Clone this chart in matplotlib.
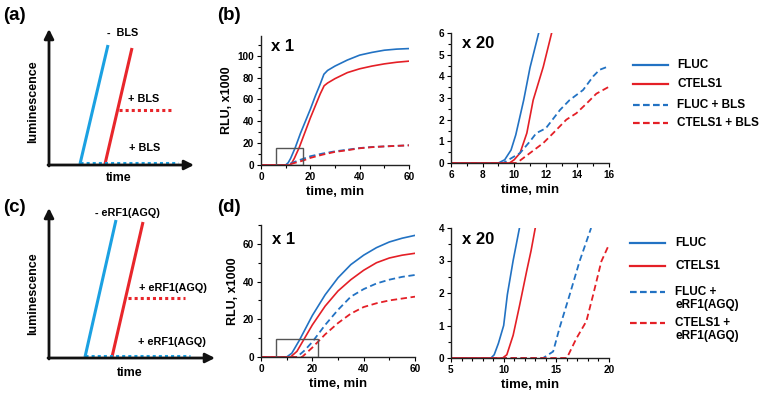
import matplotlib
matplotlib.use("Agg")
import matplotlib.pyplot as plt
from matplotlib.patches import Rectangle
from matplotlib.ticker import MultipleLocator

plt.rcParams['font.family'] = ['Liberation Sans', 'DejaVu Sans']
plt.rcParams['font.weight'] = 'bold'

BLUE = '#2272c3'
RED = '#e41f26'
SK_BLUE = '#1ba1e2'
SK_RED = '#e8262b'

# ---- (b) x1 : time (min) / RLU x1000
b1_fluc_t = [0, 10, 11, 12, 13.9, 16, 18, 20, 22, 24, 25.5, 27, 30, 35, 40, 45, 50, 55, 60]
b1_fluc_y = [0, 0, 2, 6, 16, 29, 40, 51, 63, 74, 83, 86.5, 90.5, 96, 100.5, 103, 105, 106, 106.5]
b1_ctels_t = [0, 11.6, 12.5, 13.5, 15.5, 18, 20, 22, 24, 25.6, 27, 30, 35, 40, 45, 50, 55, 60]
b1_ctels_y = [0, 0, 2, 6, 16, 31, 43, 54, 65, 72.5, 75, 79, 84.5, 88, 90.5, 92.5, 94, 95]
b1_flucbls_t = [0, 10, 12, 15, 20, 25, 30, 35, 40, 45, 50, 55, 60]
b1_flucbls_y = [0, 0, 1.5, 4, 8, 10.5, 12.5, 14, 15.5, 16.5, 17, 17.5, 18]
b1_ctelsbls_t = [0, 11, 13, 17, 20, 25, 30, 35, 40, 45, 50, 55, 60]
b1_ctelsbls_y = [0, 0, 1.5, 4, 6.5, 9.5, 12, 13.5, 15.3, 16.3, 17, 17.5, 18]

# ---- (b) x20
b2_fluc_t = [6, 9.0, 9.4, 9.8, 10.1, 10.6, 11.0, 11.55]
b2_fluc_y = [0, 0, 0.15, 0.6, 1.3, 2.9, 4.4, 6]
b2_ctels_t = [6, 9.7, 10.0, 10.37, 10.8, 11.2, 11.84, 12.37]
b2_ctels_y = [0, 0, 0.15, 0.46, 1.38, 2.9, 4.44, 6]
b2_flucbls_t = [6, 9.3, 10.37, 11.0, 11.4, 12.0, 12.9, 13.5, 13.94, 14.36, 15.0, 15.4, 16.0]
b2_flucbls_y = [0, 0, 0.46, 1.0, 1.38, 1.6, 2.45, 2.9, 3.14, 3.37, 4.0, 4.3, 4.47]
b2_ctelsbls_t = [6, 10.16, 11.0, 11.84, 12.47, 13.3, 13.94, 14.6, 15.2, 16.0]
b2_ctelsbls_y = [0, 0, 0.46, 0.92, 1.38, 2.0, 2.3, 2.76, 3.2, 3.52]

# ---- (d) x1
d1_fluc_t = [0, 10, 12, 15, 20, 25, 30, 35, 40, 45, 50, 55, 60]
d1_fluc_y = [0, 0, 2, 9, 22, 33, 42, 49, 54, 58, 61, 63, 64.5]
d1_ctels_t = [0, 11.5, 14, 17, 20, 25, 30, 35, 40, 45, 50, 55, 60]
d1_ctels_y = [0, 0, 3, 10, 17, 27, 35, 41, 46, 50, 52.5, 54, 55]
d1_flucerf_t = [0, 14, 17, 20, 25, 30, 35, 40, 45, 50, 55, 60]
d1_flucerf_y = [0, 0, 3.5, 8, 17, 25, 32, 36, 39, 41, 42.5, 43.5]
d1_ctelserf_t = [0, 16, 18, 20, 25, 30, 35, 40, 45, 50, 55, 60]
d1_ctelserf_y = [0, 0, 2.5, 5, 12, 18, 23, 26.5, 28.5, 30, 31, 32]

# ---- (d) x20
d2_fluc_t = [5, 8.8, 9.1, 9.5, 10.0, 10.35, 10.9, 11.5]
d2_fluc_y = [0, 0, 0.1, 0.45, 1.0, 1.95, 3.0, 4.0]
d2_ctels_t = [5, 9.9, 10.3, 10.9, 11.5, 12.2, 12.6, 13.0]
d2_ctels_y = [0, 0, 0.1, 0.7, 1.6, 2.7, 3.3, 4.0]
d2_flucerf_t = [5, 13.75, 14.7, 15.3, 16.27, 17.2, 18.3]
d2_flucerf_y = [0, 0, 0.2, 0.92, 1.95, 2.97, 4.0]
d2_ctelserf_t = [5, 16.0, 16.9, 17.85, 18.5, 19.27, 20.0]
d2_ctelserf_y = [0, 0, 0.6, 1.13, 1.95, 2.97, 3.49]

legend_b = ['FLUC', 'CTELS1', 'FLUC + BLS', 'CTELS1 + BLS']
legend_d = ['FLUC', 'CTELS1', 'FLUC +\neRF1(AGQ)', 'CTELS1 +\neRF1(AGQ)']

fig = plt.figure(figsize=(7.64, 3.94), dpi=100)
W, H = 764, 394


def make_ax(x0, x1, y0, y1):
    # pixel box -> figure fractions
    return fig.add_axes([x0 / W, 1 - y1 / H, (x1 - x0) / W, (y1 - y0) / H])


def style(ax, xlim, ylim, xmaj, xmin, ymaj, ymin):
    ax.set_xlim(*xlim)
    ax.set_ylim(*ylim)
    ax.xaxis.set_major_locator(MultipleLocator(xmaj))
    ax.xaxis.set_minor_locator(MultipleLocator(xmin))
    ax.yaxis.set_major_locator(MultipleLocator(ymaj))
    ax.yaxis.set_minor_locator(MultipleLocator(ymin))
    for s in ['top', 'right']:
        ax.spines[s].set_visible(False)
    for s in ['left', 'bottom']:
        ax.spines[s].set_linewidth(1.0)
        ax.spines[s].set_color('#222222')
    ax.tick_params(which='major', length=3, width=0.8, labelsize=7.2, pad=2)
    ax.tick_params(which='minor', length=2, width=0.8)
    ax.set_xlabel('time, min', fontsize=9.5, fontweight='bold', labelpad=3)
    ax.patch.set_alpha(0)


def four(ax, s, dashed=(3.5, 2)):
    ax.plot(s[0], s[1], color=BLUE, lw=1.2)
    ax.plot(s[2], s[3], color=RED, lw=1.2)
    ax.plot(s[4], s[5], color=BLUE, lw=1.3, dashes=dashed)
    ax.plot(s[6], s[7], color=RED, lw=1.3, dashes=dashed)


# (b) left
ax = make_ax(261, 409, 36, 165)
four(ax, [b1_fluc_t, b1_fluc_y, b1_ctels_t, b1_ctels_y,
          b1_flucbls_t, b1_flucbls_y, b1_ctelsbls_t, b1_ctelsbls_y])
ax.add_patch(Rectangle((6, 0), 11, 16, fill=False, ec='#555555', lw=1, zorder=5))
style(ax, (0, 60), (0, 118), 20, 10, 20, 10)
ax.set_ylabel('RLU, x1000', fontsize=9, fontweight='bold', labelpad=3)
ax.text(0.07, 0.92, 'x 1', transform=ax.transAxes, fontsize=12, fontweight='bold', va='center')

# (b) right
ax = make_ax(451, 609, 33, 163)
four(ax, [b2_fluc_t, b2_fluc_y, b2_ctels_t, b2_ctels_y,
          b2_flucbls_t, b2_flucbls_y, b2_ctelsbls_t, b2_ctelsbls_y])
style(ax, (6, 16), (0, 6), 2, 1, 1, 0.5)
ax.text(0.07, 0.92, 'x 20', transform=ax.transAxes, fontsize=12, fontweight='bold', va='center')

# (d) left
ax = make_ax(261, 415, 225, 357)
four(ax, [d1_fluc_t, d1_fluc_y, d1_ctels_t, d1_ctels_y,
          d1_flucerf_t, d1_flucerf_y, d1_ctelserf_t, d1_ctelserf_y])
ax.add_patch(Rectangle((6, 0), 16.3, 9.6, fill=False, ec='#555555', lw=1, zorder=5))
style(ax, (0, 60), (0, 70), 20, 10, 20, 10)
ax.set_ylabel('RLU, x1000', fontsize=9, fontweight='bold', labelpad=3)
ax.text(0.07, 0.89, 'x 1', transform=ax.transAxes, fontsize=12, fontweight='bold', va='center')

# (d) right
ax = make_ax(451, 609, 228, 358)
four(ax, [d2_fluc_t, d2_fluc_y, d2_ctels_t, d2_ctels_y,
          d2_flucerf_t, d2_flucerf_y, d2_ctelserf_t, d2_ctelserf_y])
style(ax, (5, 20), (0, 4), 5, 1, 1, 0.5)
ax.text(0.07, 0.91, 'x 20', transform=ax.transAxes, fontsize=12, fontweight='bold', va='center')

# overlay in pixel coordinates: schematics, legends, panel letters
ov = fig.add_axes([0, 0, 1, 1])
ov.set_xlim(0, W)
ov.set_ylim(H, 0)
ov.axis('off')
ov.patch.set_alpha(0)

for lab, x, y in [('(a)', 3, 15), ('(b)', 217, 15), ('(c)', 3, 207), ('(d)', 217, 207)]:
    ov.text(x, y, lab, fontsize=13.5, fontweight='bold', va='center', ha='left')


def schematic(y_top, y_base, x_end, blue_line, red_line, red_dot, blue_dot, texts, time_y, lum_y):
    arrow = dict(arrowstyle='-|>', lw=2, color='#111111', mutation_scale=14, shrinkA=0, shrinkB=0)
    ov.annotate('', xy=(49, y_top), xytext=(49, y_base + 1), arrowprops=arrow)
    ov.annotate('', xy=(x_end, y_base), xytext=(48, y_base), arrowprops=arrow)
    ov.plot(blue_line[0], blue_line[1], color=SK_BLUE, lw=2.2, solid_capstyle='butt')
    ov.plot(red_line[0], red_line[1], color=SK_RED, lw=2.2, solid_capstyle='butt')
    ov.plot(red_dot[0], red_dot[1], color=SK_RED, lw=2.2, dashes=(1, 1))
    ov.plot(blue_dot[0], blue_dot[1], color=SK_BLUE, lw=2.2, dashes=(1, 1))
    for t, x, y in texts:
        ov.text(x, y, t, fontsize=7.8, fontweight='bold', va='center', ha='left')
    ov.text(40 + (x_end - 40) / 2 + 2, time_y, 'time', fontsize=9, fontweight='bold', va='center', ha='center')
    ov.text(33, lum_y, 'luminescence', fontsize=9, fontweight='bold', va='center', ha='center', rotation=90)


schematic(29, 165, 194,
          ([80, 108], [164, 45]), ([105, 132], [164, 48]),
          ([119, 173], [110, 110]), ([80, 178], [163, 163]),
          [('-  BLS', 107, 33), ('+ BLS', 128, 99), ('+ BLS', 129, 148)], 178, 102)
schematic(208, 358, 215,
          ([85, 116], [357, 220]), ([112, 143], [357, 222]),
          ([128, 185], [298, 298]), ([85, 190], [356, 356]),
          [('- eRF1(AGQ)', 95, 213), ('+ eRF1(AGQ)', 139, 288), ('+ eRF1(AGQ)', 138, 342)], 373, 294)


def legend(names, x0, x1, xt, ys):
    styles = [(BLUE, None), (RED, None), (BLUE, (3, 1.5)), (RED, (3, 1.5))]
    for name, (c, d), y in zip(names, styles, ys):
        if d is None:
            ov.plot([x0, x1], [y, y], color=c, lw=1.6)
        else:
            ov.plot([x0, x1], [y, y], color=c, lw=1.6, dashes=d)
        if '\n' in name:
            ov.text(xt, y - 6, name, fontsize=8.5, fontweight='bold', va='top', ha='left', linespacing=1.15)
        else:
            ov.text(xt, y, name, fontsize=8.5, fontweight='bold', va='center', ha='left')


legend(legend_b, 633, 668, 677, [65, 84, 105, 123])
legend(legend_d, 630, 665, 675, [243, 266, 292, 323])

fig.savefig('out.png', dpi=100)
